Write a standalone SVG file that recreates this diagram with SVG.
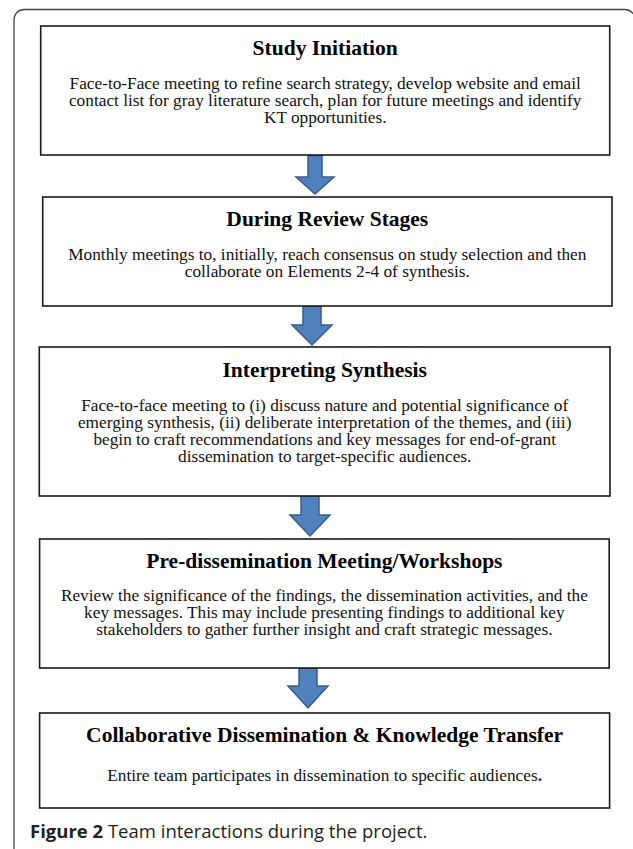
<svg xmlns="http://www.w3.org/2000/svg" width="633" height="849" viewBox="0 0 633 849">
<style>
.box{fill:#fff;stroke:#1a1a1a;stroke-width:1.6}
.title{font-family:"Liberation Serif","Times New Roman",serif;font-weight:bold;font-size:21.5px;fill:#000;text-anchor:middle}
.body{font-family:"Liberation Serif","Times New Roman",serif;font-size:17.3px;fill:#111;text-anchor:middle}
.arrow{fill:#4f81bd;stroke:#385d8a;stroke-width:1.5;stroke-linejoin:miter}
.cap{font-family:"Open Sans","Noto Sans","Liberation Sans",sans-serif;font-size:18.5px;fill:#231f20}
</style>
<rect x="0" y="0" width="633" height="849" fill="#fff"/>
<rect x="14" y="9.5" width="621" height="900" rx="10" fill="none" stroke="#444" stroke-width="1.3"/>
<g id="connectors">
<polygon class="arrow" points="308,155.5 322,155.5 322,177 334,177 315,194 296,177 308,177"/>
<polygon class="arrow" points="303,306 321,306 321,325 332,325 312,345 292,325 303,325"/>
<polygon class="arrow" points="301,496 319,496 319,515 330,515 310,536 290,515 301,515"/>
<polygon class="arrow" points="299,668 317,668 317,686 328,686 308,708 288,686 299,686"/>
</g>
<g id="node1">
<rect class="box" x="40.7" y="26" width="569" height="129"/>
<text class="title" x="325.2" y="55">Study Initiation</text>
<text class="body" x="325.2" y="89">Face-to-Face meeting to refine search strategy, develop website and email<tspan x="325.2" dy="17">contact list for gray literature search, plan for future meetings and identify</tspan><tspan x="325.2" dy="17">KT opportunities.</tspan></text>
</g>
<g id="node2">
<rect class="box" x="42.7" y="197" width="569.3" height="109"/>
<text class="title" x="327.3" y="226">During Review Stages</text>
<text class="body" x="327.3" y="260">Monthly meetings to, initially, reach consensus on study selection and then<tspan x="327.3" dy="17">collaborate on Elements 2-4 of synthesis.</tspan></text>
</g>
<g id="node3">
<rect class="box" x="39.3" y="347" width="570.7" height="149"/>
<text class="title" x="324.7" y="377">Interpreting Synthesis</text>
<text class="body" x="324.7" y="411">Face-to-face meeting to (i) discuss nature and potential significance of<tspan x="324.7" dy="17">emerging synthesis, (ii) deliberate interpretation of the themes, and (iii)</tspan><tspan x="324.7" dy="17">begin to craft recommendations and key messages for end-of-grant</tspan><tspan x="324.7" dy="17">dissemination to target-specific audiences.</tspan></text>
</g>
<g id="node4">
<rect class="box" x="39.6" y="539" width="569.6" height="129"/>
<text class="title" x="324.4" y="567.5">Pre-dissemination Meeting/Workshops</text>
<text class="body" x="324.4" y="601">Review the significance of the findings, the dissemination activities, and the<tspan x="324.4" dy="17">key messages. This may include presenting findings to additional key</tspan><tspan x="324.4" dy="17">stakeholders to gather further insight and craft strategic messages.</tspan></text>
</g>
<g id="node5">
<rect class="box" x="39.6" y="713" width="570" height="95"/>
<text class="title" x="324.6" y="741.5">Collaborative Dissemination &amp; Knowledge Transfer</text>
<text class="body" x="324.6" y="780.5">Entire team participates in dissemination to specific audiences<tspan font-weight="bold">.</tspan></text>
</g>
<text class="cap" x="30" y="838"><tspan font-weight="bold">Figure 2</tspan> Team interactions during the project.</text>
</svg>
